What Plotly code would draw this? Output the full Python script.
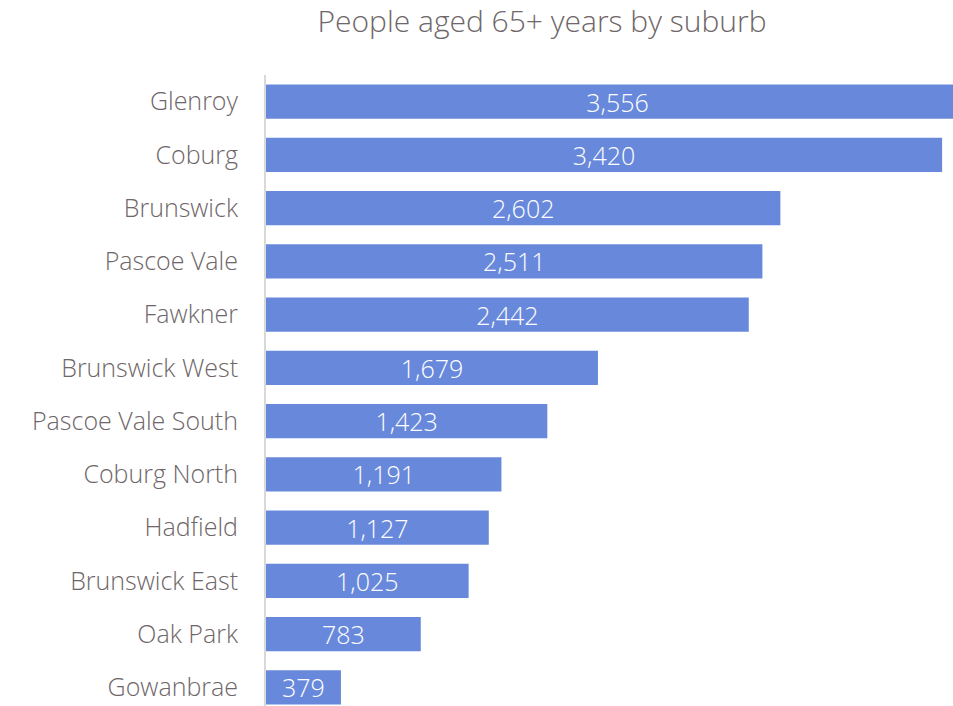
import plotly.graph_objects as go

suburbs = ["Glenroy", "Coburg", "Brunswick", "Pascoe Vale", "Fawkner",
           "Brunswick West", "Pascoe Vale South", "Coburg North", "Hadfield",
           "Brunswick East", "Oak Park", "Gowanbrae"]
people_65_plus = [3556, 3420, 2602, 2511, 2442, 1679, 1423, 1191, 1127, 1025, 783, 379]
title_text = "People aged 65+ years by suburb"

FONT = "Open Sans"
GREY = "#6e6668"
BAR = "#6889db"

W, H = 969, 714
LEFT, TOP = 266, 75

fig = go.Figure(go.Bar(
    y=suburbs,
    x=people_65_plus,
    orientation="h",
    marker=dict(color=BAR, line=dict(width=0)),
    text=[f"{v:,}" for v in people_65_plus],
    textposition="inside",
    insidetextanchor="middle",
    textangle=0,
    constraintext="none",
    insidetextfont=dict(family=FONT, size=25, color="white", weight=300),
    hoverinfo="skip",
))

fig.update_layout(
    width=W, height=H, autosize=False,
    margin=dict(l=LEFT, r=0, t=TOP, b=0, pad=0),
    paper_bgcolor="white", plot_bgcolor="white",
    bargap=0.36,
    showlegend=False,
    title=dict(
        text=title_text,
        font=dict(family=FONT, size=30, color=GREY, weight=300),
        x=542 / W, xanchor="center", xref="container",
        y=1 - 21 / H, yanchor="middle", yref="container",
    ),
    xaxis=dict(range=[0, max(people_65_plus)], visible=False, fixedrange=True),
    yaxis=dict(
        categoryorder="array", categoryarray=suburbs, autorange="reversed",
        showline=True, linecolor="#d9d9d9", linewidth=2,
        showgrid=False, ticks="", zeroline=False,
        tickfont=dict(family=FONT, size=25, color=GREY, weight=300),
        ticklabelstandoff=21,
    ),
)

fig.write_html("out.html")
